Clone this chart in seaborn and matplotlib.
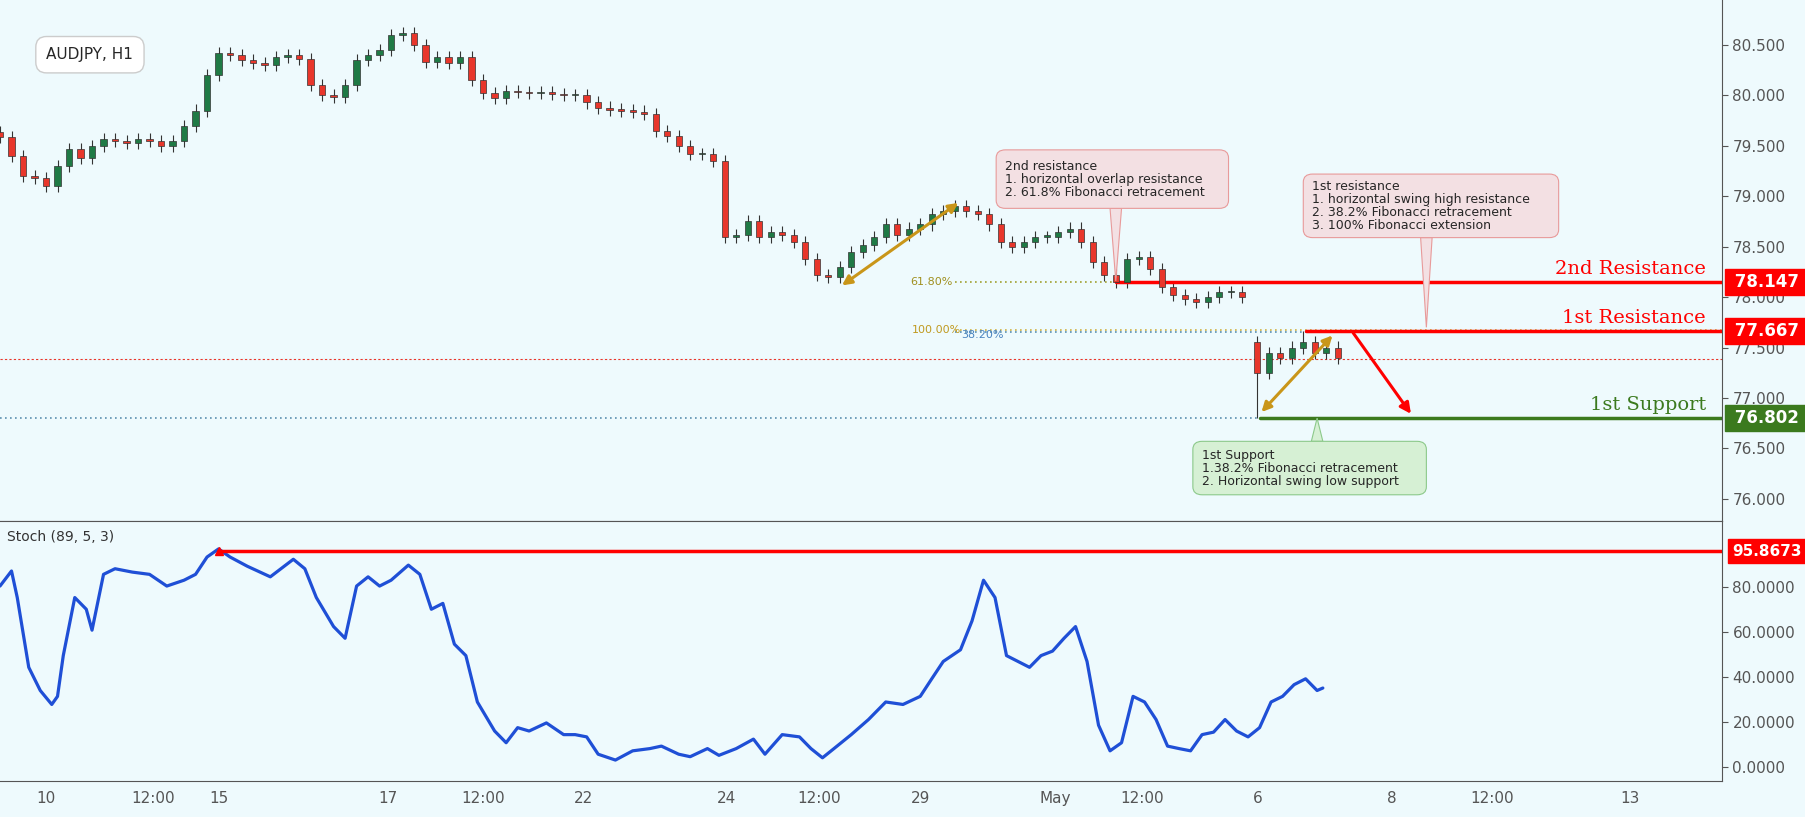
import matplotlib
matplotlib.use("Agg")
import matplotlib.pyplot as plt
from matplotlib.patches import FancyBboxPatch, Polygon
import seaborn as sns
import numpy as np
import pandas as pd

# ---------------- data ----------------
closes = [79.59, 79.40, 79.20, 79.18, 79.10, 79.30, 79.47, 79.38, 79.50, 79.57,
          79.55, 79.53, 79.57, 79.55, 79.50, 79.55, 79.70, 79.85, 80.20, 80.42,
          80.40, 80.35, 80.32, 80.30, 80.38, 80.40, 80.36, 80.10, 80.00, 79.98,
          80.10, 80.35, 80.40, 80.45, 80.60, 80.62, 80.50, 80.33, 80.38, 80.32,
          80.38, 80.15, 80.02, 79.97, 80.04, 80.03, 80.02, 80.03, 80.01, 80.00,
          80.00, 79.93, 79.88, 79.86, 79.85, 79.84, 79.82, 79.65, 79.60, 79.50,
          79.42, 79.42, 79.35, 78.60, 78.62, 78.75, 78.60, 78.65, 78.62, 78.55,
          78.38, 78.22, 78.20, 78.30, 78.45, 78.52, 78.60, 78.72, 78.62, 78.68,
          78.72, 78.82, 78.85, 78.90, 78.85, 78.82, 78.72, 78.55, 78.50, 78.55,
          78.60, 78.60, 78.65, 78.68, 78.55, 78.35, 78.22, 78.15, 78.38, 78.40,
          78.28, 78.10, 78.02, 77.98, 77.95, 78.00, 78.05, 78.05, 78.00,
          77.25, 77.45, 77.40, 77.50, 77.55, 77.45, 77.50, 77.40]
gap_open = 77.55          # open of first bar after weekend gap
gap_low = 76.802
swing_high = 77.667

stoch_x = [0, 1, 1.5, 2.5, 3.5, 4.5, 5, 5.5, 6.5, 7.5, 8, 9, 10, 11.5, 13, 14.5, 16, 17, 18, 19,
           20, 21.5, 23.5, 25.5, 26.5, 27.5, 29, 30, 31, 32, 33, 34, 35.5, 36.5, 37.5, 38.5,
           39.5, 40.5, 41.5, 43, 44, 45, 46, 47.5, 49, 50, 51, 52, 53.5, 55, 56.5, 57.5, 59,
           60, 61.5, 62.5, 64, 65.5, 66.5, 68, 69.5, 70.5, 71.5, 72.5, 74, 75.5, 77, 78.5,
           80, 81, 82, 83.5, 84.5, 85.5, 86.5, 87.5, 88.5, 89.5, 90.5, 91.5, 92.5, 93.5,
           94.5, 95.5, 96.5, 97.5, 98.5, 99.5, 100.5, 101.5, 102.5, 103.5, 104.5, 105.5,
           106.5, 107.5, 108.5, 109.5, 110.5, 111.5, 112.5, 113.5, 114.5, 115]
stoch_v = [80.4, 87.1, 75.3, 44.3, 34, 27.8, 31.4, 49.5, 75.3, 70.1, 60.8, 85.6, 88.1, 86.6,
           85.6, 80.4, 83, 85.6, 93.3, 96.9, 93.3, 89.2, 84.5, 92.3, 88.1, 75.3, 62.4, 57.2,
           80.4, 84.5, 80.4, 83, 89.7, 85.6, 70.1, 72.7, 54.6, 49.5, 28.9, 16, 10.8, 17.5, 16,
           19.6, 14.4, 14.4, 13.4, 5.7, 3.1, 7.2, 8.2, 9.3, 5.7, 4.6, 8.2, 5.2, 8.2, 12.4, 5.7,
           14.4, 13.4, 8.2, 4.1, 8.2, 14.4, 21.1, 28.9, 27.8, 31.4, 39.2, 46.9, 52.1, 64.9, 83,
           75.3, 49.5, 46.9, 44.3, 49.5, 51.5, 57.2, 62.4, 46.9, 18.6, 7.2, 10.8, 31.4, 28.9,
           21.1, 9.3, 8.2, 7.2, 14.4, 15.5, 21.1, 16, 13.4, 17.5, 28.9, 31.4, 36.6, 39.2, 34, 35.1]
stoch_level = 95.8673

levels = [78.147, 77.667, 76.802]
level_names = ["2nd Resistance", "1st Resistance", "1st Support"]
red_dotted = 77.39

date_pos = [4, 13.3, 19, 33.7, 42, 50.7, 63.2, 71.2, 80, 91.7, 99.3, 109.3, 121, 129.7, 141.7]
date_lab = ["10", "12:00", "15", "17", "12:00", "22", "24", "12:00", "29", "May", "12:00",
            "6", "8", "12:00", "13"]
price_ticks = [76.0, 76.5, 77.0, 77.5, 78.0, 78.5, 79.0, 79.5, 80.0, 80.5]
stoch_ticks = [0, 20, 40, 60, 80]

# ---------------- style ----------------
BG = "#eefafd"
UP = "#1f7a45"
DN = "#e8362b"
RED = "#ff0000"
GREEN = "#3b7a1e"
GOLD = "#c99619"
sns.set_style("white")

fig = plt.figure(figsize=(18.05, 8.17), dpi=100)
fig.patch.set_facecolor(BG)
W = 1722 / 1805
ax = fig.add_axes([0, 1 - 521 / 817, W, 521 / 817])
axs = fig.add_axes([0, 36 / 817, W, 260 / 817])
XMAX = 149.7
for a in (ax, axs):
    a.set_facecolor(BG)
    a.set_xlim(0, XMAX)
    a.yaxis.tick_right()
    a.tick_params(axis="y", colors="#555555", labelsize=11, length=4, direction="out")
    for s in ("left", "top"):
        a.spines[s].set_visible(False)
    a.spines["right"].set_color("#555555")
    a.spines["bottom"].set_color("#555555")

# ------------- candles -------------
n = len(closes)
opens = [closes[0] + 0.05] + closes[:-1]
opens[109] = gap_open
xs = np.arange(n, dtype=float)
xs[109:] += 0.3
o = np.array(opens); c = np.array(closes)
hi = np.maximum(o, c) + 0.06
lo = np.minimum(o, c) - 0.06
lo[109] = gap_low
hi[113] = swing_high
df = pd.DataFrame({"x": xs, "o": o, "c": c, "hi": hi, "lo": lo})
df["col"] = np.where(df.c >= df.o, UP, DN)
ax.vlines(df.x, df.lo, df.hi, colors="#333333", lw=0.8, zorder=2)
ax.bar(df.x, (df.c - df.o).abs().clip(lower=0.012), bottom=np.minimum(df.o, df.c),
       width=0.55, color=df.col, edgecolor="#333333", lw=0.5, zorder=3)

ax.set_ylim(75.78, 80.946)
ax.set_yticks(price_ticks)
ax.set_yticklabels([f"{t:.3f}" for t in price_ticks])
ax.set_xticks([])

# reference lines
ax.axhline(red_dotted, color=DN, lw=0.8, ls=(0, (2, 2)), zorder=1)
ax.axhline(levels[2], xmax=1, color="#5b8fb0", lw=1.2, ls=(0, (1, 2)), zorder=1)
ax.plot([83, 97], [78.147, 78.147], color="#a0a030", lw=1.2, ls=(0, (1, 2)))
ax.text(82.8, 78.147, "61.80%", fontsize=8, color="#a09020", ha="right", va="center")
ax.plot([83, XMAX], [77.675, 77.675], color="#d0b040", lw=1.2, ls=(0, (1, 2)))
ax.plot([83, XMAX], [77.655, 77.655], color="#5b8fb0", lw=1.2, ls=(0, (1, 2)))
ax.text(79.3, 77.675, "100.00%", fontsize=8, color="#c09a20", ha="left", va="center")
ax.text(83.6, 77.625, "38.20%", fontsize=8, color="#4a84c0", ha="left", va="center")

ax.plot([97, XMAX], [levels[0]] * 2, color=RED, lw=2.5)
ax.plot([113.5, XMAX], [levels[1]] * 2, color=RED, lw=2.5)
ax.plot([109.5, XMAX], [levels[2]] * 2, color=GREEN, lw=2.5)
for lv, nm, col in zip(levels, level_names, [RED, RED, GREEN]):
    ax.text(148.3, lv + 0.04, nm, color=col, fontsize=14, family="DejaVu Serif",
            ha="right", va="bottom")
    ax.text(1.004, lv, f" {lv:.3f} ", transform=ax.get_yaxis_transform(), color="white",
            fontsize=12, fontweight="bold", ha="left", va="center",
            bbox=dict(boxstyle="square,pad=0.25", fc=col, ec=col), clip_on=False)

# arrows
ax.annotate("", xy=(73, 78.1), xytext=(83.5, 78.95),
            arrowprops=dict(arrowstyle="<|-|>", color=GOLD, lw=2.2, mutation_scale=14))
ax.annotate("", xy=(109.5, 76.84), xytext=(116, 77.64),
            arrowprops=dict(arrowstyle="<|-|>", color=GOLD, lw=2.2, mutation_scale=14))
ax.annotate("", xy=(122.8, 76.82), xytext=(117.5, 77.667),
            arrowprops=dict(arrowstyle="-|>", color=RED, lw=2.2, mutation_scale=16))

# callouts
def callout(x0, x1, y0, y1, tip, base, text, fc, ec):
    ax.add_patch(Polygon([(base[0] - 0.5, base[1]), (base[0] + 0.5, base[1]), tip],
                         closed=True, fc=fc, ec=ec, lw=0.8, zorder=5))
    ax.add_patch(FancyBboxPatch((x0, y0), x1 - x0, y1 - y0,
                                boxstyle="round,pad=0,rounding_size=0.8",
                                fc=fc, ec=ec, lw=0.8, zorder=6, mutation_aspect=0.1))
    ax.text(x0 + 0.8, (y0 + y1) / 2, text, fontsize=9, va="center", ha="left",
            family="DejaVu Sans", zorder=7, linespacing=1.0)

callout(86.6, 106.8, 78.88, 79.46, (97, 78.16), (97, 78.88),
        "2nd resistance\n1. horizontal overlap resistance\n2. 61.8% Fibonacci retracement",
        "#f3e0e3", "#e89a9a")
callout(113.3, 135.5, 78.59, 79.22, (124, 77.70), (124, 78.59),
        "1st resistance\n1. horizontal swing high resistance\n2. 38.2% Fibonacci retracement\n3. 100% Fibonacci extension",
        "#f3e0e3", "#e89a9a")
callout(103.7, 124, 76.04, 76.57, (114.5, 76.80), (114.5, 76.57),
        "1st Support\n1.38.2% Fibonacci retracement\n2. Horizontal swing low support",
        "#d6f0d4", "#8cc98a")

ax.text(0.027, 0.895, "AUDJPY, H1", transform=ax.transAxes, fontsize=11, va="center",
        bbox=dict(boxstyle="round,pad=0.7", fc="white", ec="#cccccc"))

# ------------- stoch -------------
sdf = pd.DataFrame({"x": stoch_x, "v": stoch_v})
sns.lineplot(data=sdf, x="x", y="v", ax=axs, color="#1f4fd6", lw=2.3)
axs.plot([19, XMAX], [stoch_level] * 2, color=RED, lw=2.5)
axs.plot(19, stoch_level, marker="^", color=RED, ms=6)
axs.text(1.006, stoch_level, f"{stoch_level:.4f}", transform=axs.get_yaxis_transform(),
         color="white", fontsize=11, fontweight="bold", ha="left", va="center",
         bbox=dict(boxstyle="square,pad=0.3", fc=RED, ec=RED), clip_on=False, zorder=10)
axs.set_ylim(-6.2, 109.3)
axs.set_yticks(stoch_ticks)
axs.set_yticklabels([f"{t:.4f}" for t in stoch_ticks])
axs.set_xlabel(""); axs.set_ylabel("")
axs.set_xticks(date_pos)
axs.set_xticklabels(date_lab)
axs.tick_params(axis="x", colors="#555555", labelsize=11, length=4)
axs.spines["top"].set_visible(True)
axs.spines["top"].set_color("#555555")
axs.text(0.004, 0.94, "Stoch (89, 5, 3)", transform=axs.transAxes, fontsize=10,
         color="#333333", va="center")

fig.savefig("out.png", dpi=100, facecolor=BG)
